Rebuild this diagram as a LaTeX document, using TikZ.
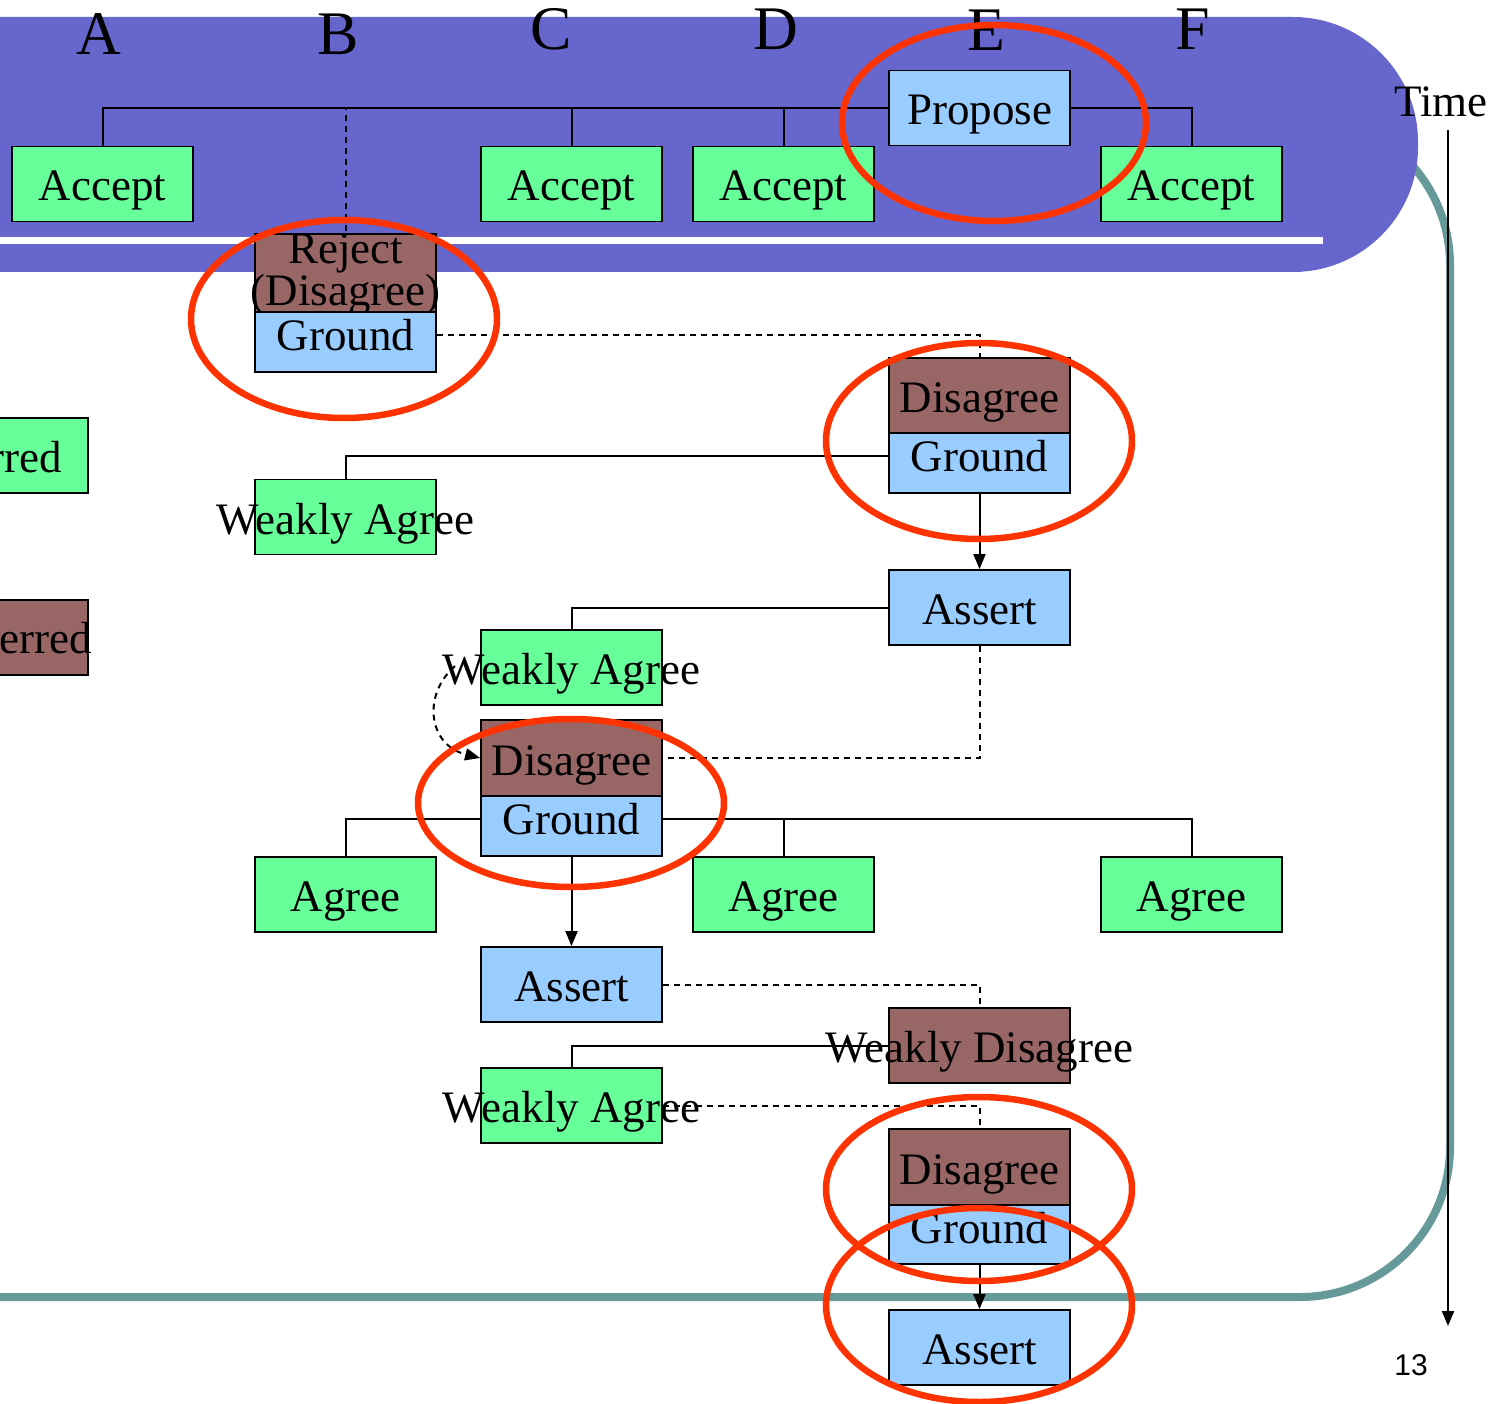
\documentclass[tikz,border=0pt]{standalone}
\usepackage{fontspec}
\setmainfont{Liberation Serif}
\newfontfamily\pagefont{Liberation Sans}
\usetikzlibrary{arrows.meta}
\definecolor{cgreen}{HTML}{66FF99}
\definecolor{cblue}{HTML}{99CCFF}
\definecolor{cbrown}{HTML}{996666}
\definecolor{cpurple}{HTML}{6666CC}
\definecolor{cteal}{HTML}{669999}
\definecolor{cred}{HTML}{FF3300}
\newcommand\zbox[1]{\makebox[0pt]{#1}}
\begin{document}
\begin{tikzpicture}[x=1pt,y=-1pt,
  box/.style={draw=black, line width=1.8pt, minimum width=181pt, minimum height=75pt, inner sep=0pt, font=\fontsize{45}{45}\selectfont},
  tb/.style={text height=50pt, text depth=16pt},
  gbox/.style={box, tb, fill=cgreen},
  bbox/.style={box, tb, fill=cblue},
  rbox/.style={box, tb, fill=cbrown},
  gnd/.style={box, fill=cblue, minimum height=60pt, text height=35pt, text depth=18pt},
  conn/.style={draw=black, line width=2pt},
  dconn/.style={conn, dashed, dash pattern=on 6pt off 5pt},
  arr/.style={conn, -{Triangle[length=15pt,width=12pt]}},
  hl/.style={draw=cred, line width=6.5pt},
  col/.style={anchor=base, font=\fontsize{62}{62}\selectfont}
]
\useasboundingbox (0,0) rectangle (1499,1404);
% background frame and banner
\draw[cteal, line width=8pt, rounded corners=150pt] (-200,115) rectangle (1450,1297);
\fill[cpurple, rounded corners=125pt] (-200,17) rectangle (1418,272);
\fill[white] (-20,237) rectangle (1323,244);
% column letters
\node[col] (la) at (99,55) {A};
\node[col] (lb) at (338,55) {B};
\node[col] (lc) at (551,50) {C};
\node[col] (ld) at (776,50) {D};
\node[col] (le) at (986,51) {E};
\node[col] (lf) at (1193,50) {F};
% nodes
\node[gbox] (accA) at (102.5,184) {Accept};
\node[gbox] (accC) at (571.5,184) {Accept};
\node[gbox] (accD) at (783.5,184) {Accept};
\node[bbox] (prop) at (979.5,108) {Propose};
\node[gbox] (accF) at (1191.5,184) {Accept};
\node[box, fill=cbrown, align=center, font=\fontsize{45}{32}\selectfont] (rej) at (345.5,274.5) {\zbox{Reject}\\\zbox{(Disagree)}};
\node[gnd] (gB) at (345.5,342) {Ground};
\node[rbox] (disE) at (979.5,395.5) {Disagree};
\node[gnd] (gE) at (979.5,463) {Ground};
\node[gbox] (waB) at (345.5,517) {\zbox{Weakly Agree}};
\node[bbox] (asE) at (979.5,607.5) {Assert};
\node[gbox] (waC) at (571.5,667.5) {\zbox{Weakly Agree}};
\node[rbox, minimum height=76pt] (disC) at (571.5,758) {Disagree};
\node[gnd] (gC) at (571.5,826) {Ground};
\node[gbox] (agB) at (345.5,894.5) {Agree};
\node[gbox] (agD) at (783.5,894.5) {Agree};
\node[gbox] (agF) at (1191.5,894.5) {Agree};
\node[bbox] (asC) at (571.5,984.5) {Assert};
\node[rbox] (wdE) at (979.5,1045.5) {\zbox{Weakly Disagree}};
\node[gbox] (waC2) at (571.5,1105.5) {\zbox{Weakly Agree}};
\node[rbox, minimum height=76pt] (disE2) at (979.5,1167) {Disagree};
\node[gnd, minimum height=59pt] (gE2) at (979.5,1234.5) {Ground};
\node[bbox] (asE2) at (979.5,1347.5) {Assert};
% partial nodes at left edge
\node[gbox] (pref) at (-2.5,455.5) {};
\node[anchor=base east, inner sep=0pt, font=\fontsize{45}{45}\selectfont] (preft) at (62,472) {rred};
\node[rbox] (dpref) at (-2.5,637.5) {};
\node[anchor=base east, inner sep=0pt, font=\fontsize{45}{45}\selectfont] (dpreft) at (92,653) {erred};
% connectors
\draw[conn] (prop.west) -| (accA.north);
\draw[conn] (prop.west) -| (accC.north);
\draw[conn] (prop.west) -| (accD.north);
\draw[conn] (prop.east) -| (accF.north);
\draw[dconn] (prop.west) -| (rej.north);
\draw[dconn] ([yshift=7pt]gB.east) -| (disE.north);
\draw[conn] ([yshift=7pt]gE.west) -| (waB.north);
\draw[arr] (gE.south) -- (asE.north);
\draw[conn] (asE.west) -| (waC.north);
\draw[dconn] (asE.south) |- (disC.east);
\coordinate (cs) at (455,666);
\draw[dconn, -{Triangle[length=15pt,width=12pt]}] (cs) .. controls (422,695) and (428,745) .. (disC.west);
\draw[conn] ([yshift=7pt]gC.west) -| (agB.north);
\draw[conn] ([yshift=7pt]gC.east) -| (agD.north);
\draw[conn] ([yshift=7pt]gC.east) -| (agF.north);
\draw[arr] (gC.south) -- (asC.north);
\draw[dconn] (asC.east) -| (wdE.north);
\draw[conn] (wdE.west) -| (waC2.north);
\draw[dconn] (waC2.east) -| (disE2.north);
\draw[arr] (gE2.south) -- (asE2.north);
% red highlight ellipses
\draw[hl] (994,123) ellipse [x radius=152, y radius=98];
\draw[hl] (344,319) ellipse [x radius=153, y radius=99];
\draw[hl] (979,441) ellipse [x radius=153, y radius=98];
\draw[hl] (571,803) ellipse [x radius=153, y radius=84];
\draw[hl] (979,1189) ellipse [x radius=153, y radius=92];
\draw[hl] (979,1305) ellipse [x radius=153, y radius=97];
% time axis
\node[anchor=base, font=\fontsize{45}{45}\selectfont] (time) at (1441,117) {Time};
\coordinate (t0) at (1448,130);
\coordinate (t1) at (1448,1326);
\draw[arr] (t0) -- (t1);
\node[font=\pagefont\fontsize{30}{30}\selectfont] (pg) at (1411,1365) {13};
\end{tikzpicture}
\end{document}
